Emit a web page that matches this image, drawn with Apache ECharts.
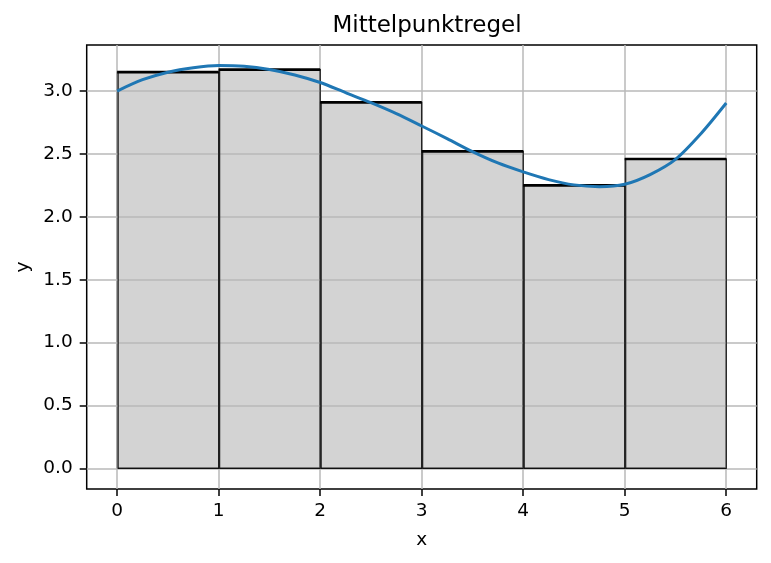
<!DOCTYPE html>
<html>
<head>
<meta charset="utf-8">
<script src="https://cdn.jsdelivr.net/npm/echarts@6/dist/echarts.min.js"></script>
<style>
html,body{margin:0;padding:0;background:#fff;}
#chart{width:771px;height:563px;}
</style>
</head>
<body>
<div id="chart"></div>
<script>
// Midpoint rule rectangles
const barLeft = [0, 1, 2, 3, 4, 5];
const barRight = [1, 2, 3, 4, 5, 6];
const barHeights = [3.15, 3.17, 2.91, 2.52, 2.25, 2.46];

// Curve samples
const curveX = [0, 0.25, 0.5, 0.75, 1, 1.25, 1.5, 1.75, 2, 2.25, 2.5, 2.75, 3,
                3.25, 3.5, 3.75, 4, 4.25, 4.5, 4.75, 5, 5.25, 5.5, 5.75, 6];
const curveY = [3.00, 3.09, 3.15, 3.186, 3.204, 3.198, 3.172, 3.128, 3.068, 2.987, 2.907, 2.82, 2.722,
                2.622, 2.518, 2.428, 2.357, 2.296, 2.254, 2.240, 2.259, 2.336, 2.457, 2.661, 2.905];

// Tick labels
const xTicks = [0, 1, 2, 3, 4, 5, 6];
const yTicks = [0, 0.5, 1.0, 1.5, 2.0, 2.5, 3.0];

const FONT = 'DejaVu Sans';
const chart = echarts.init(document.getElementById('chart'), null, {renderer: 'canvas'});

const barData = barLeft.map((l, i) => [l, barRight[i], barHeights[i]]);
const curveData = curveX.map((x, i) => [x, curveY[i]]);

chart.setOption({
  animation: false,
  backgroundColor: '#ffffff',
  title: {
    text: 'Mittelpunktregel',
    left: 422,
    textAlign: 'center',
    top: 10,
    textStyle: {fontFamily: FONT, fontSize: 23, fontWeight: 'normal', color: '#000'}
  },
  grid: {
    left: 86.7, top: 45, width: 670, height: 444,
    show: true, borderColor: '#000', borderWidth: 1.5, backgroundColor: 'transparent',
    containLabel: false
  },
  xAxis: {
    type: 'value', min: -0.3, max: 6.3, z: 3,
    name: 'x', nameLocation: 'middle', nameGap: 42,
    nameTextStyle: {fontFamily: FONT, fontSize: 18.5, color: '#000'},
    axisLine: {show: false, onZero: false},
    axisTick: {show: true, length: 7, inside: false, customValues: xTicks, lineStyle: {color: '#000', width: 1.5}},
    axisLabel: {customValues: xTicks, margin: 13, fontFamily: FONT, fontSize: 18.5, color: '#000',
                formatter: v => String(v)},
    splitLine: {show: true, lineStyle: {color: '#b8b8b8', width: 1.5}}
  },
  yAxis: {
    type: 'value', min: -0.164, max: 3.366, z: 3,
    name: 'y', nameLocation: 'middle', nameGap: 50, nameRotate: 90,
    nameTextStyle: {fontFamily: FONT, fontSize: 18.5, color: '#000'},
    axisLine: {show: false, onZero: false},
    axisTick: {show: true, length: 7, inside: false, customValues: yTicks, lineStyle: {color: '#000', width: 1.5}},
    axisLabel: {customValues: yTicks, margin: 14, fontFamily: FONT, fontSize: 18.5, color: '#000',
                formatter: v => v.toFixed(1)},
    splitLine: {show: true, lineStyle: {color: '#b8b8b8', width: 1.5}}
  },
  series: [
    {
      type: 'custom', z: 2, data: barData,
      encode: {x: [0, 1], y: 2},
      renderItem: (params, api) => {
        const p0 = api.coord([api.value(0), api.value(2)]);
        const p1 = api.coord([api.value(1), 0]);
        return {
          type: 'rect',
          shape: {x: p0[0], y: p0[1], width: p1[0] - p0[0], height: p1[1] - p0[1]},
          style: {fill: '#d3d3d3', stroke: '#000', lineWidth: 1.3}
        };
      }
    },
    {
      type: 'custom', z: 4, data: barData,
      encode: {x: [0, 1], y: 2},
      renderItem: (params, api) => {
        const p0 = api.coord([api.value(0), api.value(2)]);
        const p1 = api.coord([api.value(1), 0]);
        return {
          type: 'group',
          children: [
            {
              type: 'rect',
              shape: {x: p0[0] + 1, y: p0[1], width: p1[0] - p0[0] - 1, height: p1[1] - p0[1]},
              style: {fill: 'none', stroke: '#111', lineWidth: 1.1}
            },
            {
              type: 'line',
              shape: {x1: p0[0], y1: p0[1], x2: p1[0], y2: p0[1]},
              style: {stroke: '#000', lineWidth: 2.6}
            }
          ]
        };
      }
    },
    {
      type: 'line', z: 5, data: curveData, smooth: 0.3, showSymbol: false,
      lineStyle: {color: '#1f77b4', width: 3}
    }
  ]
});
</script>
</body>
</html>
